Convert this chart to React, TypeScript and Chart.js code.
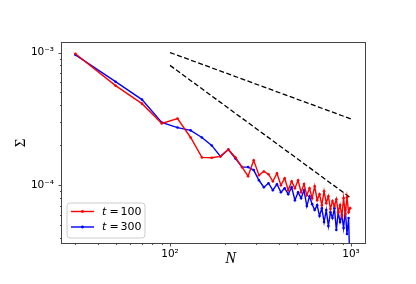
import React, { useEffect, useRef } from 'react';
import { Chart, registerables } from 'chart.js';

Chart.register(...registerables);

// ---------- data ----------
const N_VALUES = [
  30, 50, 70, 90, 110, 130, 150, 170, 190, 210, 230, 250, 270, 290, 310, 330, 350, 370, 390, 410,
  430, 450, 470, 490, 510, 530, 550, 570, 590, 610, 630, 650, 670, 690, 710, 730, 750, 770, 790, 810,
  830, 850, 870, 890, 910, 930, 950, 970, 990,
];

const SIGMA_T100 = [
  9.78e-4, 5.63e-4, 4.12e-4, 2.92e-4, 3.18e-4, 2.29e-4, 1.62e-4, 1.61e-4, 1.65e-4, 1.86e-4,
  1.62e-4, 1.37e-4, 1.17e-4, 1.54e-4, 1.19e-4, 1.27e-4, 1.21e-4, 1.07e-4, 1.23e-4, 1.0e-4,
  1.13e-4, 9.17e-5, 1.07e-4, 9.5e-5, 1.09e-4, 8.86e-5, 1.02e-4, 8.41e-5, 9.5e-5, 7.99e-5,
  9.83e-5, 7.72e-5, 8.56e-5, 7.08e-5, 9.02e-5, 7.33e-5, 8.27e-5, 6.61e-5, 7.59e-5, 6.96e-5,
  7.85e-5, 6.27e-5, 7.08e-5, 5.86e-5, 7.99e-5, 6.06e-5, 8.13e-5, 6.27e-5, 6.72e-5,
];

const SIGMA_T300 = [
  9.61e-4, 6.03e-4, 4.42e-4, 2.97e-4, 2.72e-4, 2.59e-4, 2.29e-4, 1.995e-4, 1.65e-4, 1.86e-4,
  1.59e-4, 1.37e-4, 1.37e-4, 1.3e-4, 1.09e-4, 9.66e-5, 1.035e-4, 9.17e-5, 1.018e-4, 8.86e-5,
  9.5e-5, 8.56e-5, 9.66e-5, 7.72e-5, 8.86e-5, 7.99e-5, 9.17e-5, 6.96e-5, 8.27e-5, 7.2e-5,
  6.5e-5, 7.08e-5, 5.86e-5, 6.72e-5, 5.28e-5, 6.5e-5, 4.93e-5, 6.27e-5, 5.66e-5, 6.72e-5,
  4.6e-5, 6.27e-5, 5.28e-5, 5.96e-5, 4.76e-5, 6.5e-5, 4.29e-5, 5.66e-5, 2.0e-5,
];

const SERIES_LABELS = ['t = 100', 't = 300'];
const SERIES_COLORS = ['#ff0000', '#0000ff'];

// reference guide lines (N^-1/2 and N^-1)
const REF_HALF_N = [100, 1000];
const REF_HALF_SIGMA = [1.0e-3, 3.16e-4];
const REF_ONE_N = [100, 1000];
const REF_ONE_SIGMA = [8.0e-4, 8.0e-5];

// axis ticks
const X_TICKS = [30, 40, 50, 60, 70, 80, 90, 100, 200, 300, 400, 500, 600, 700, 800, 900, 1000];
const Y_TICKS = [
  4e-5, 5e-5, 6e-5, 7e-5, 8e-5, 9e-5, 1e-4, 2e-4, 3e-4, 4e-4, 5e-4, 6e-4, 7e-4, 8e-4, 9e-4, 1e-3,
];
const X_MAJOR_LABELS = ['10²', '10³'];
const X_MAJOR_VALUES = [100, 1000];
const Y_MAJOR_LABELS = ['10⁻⁴', '10⁻³'];
const Y_MAJOR_VALUES = [1e-4, 1e-3];

const X_RANGE = [25.3, 1195];
const Y_RANGE = [3.67e-5, 1.18e-3];

const X_TITLE = 'N';
const Y_TITLE = 'Σ';

const isMajor = (v: number) => Math.abs(Math.log10(v) - Math.round(Math.log10(v))) < 1e-6;

const labelFor = (v: number, values: number[], labels: string[]) => {
  for (let i = 0; i < values.length; i++) {
    if (Math.abs(v - values[i]) / values[i] < 1e-6) return labels[i];
  }
  return '';
};

const decorPlugin = {
  id: 'decor',
  afterDraw(chart: any) {
    const ctx = chart.ctx as CanvasRenderingContext2D;
    const { left, right, top, bottom } = chart.chartArea;
    const xs = chart.scales.x;
    const ys = chart.scales.y;
    ctx.save();
    // tick marks
    ctx.strokeStyle = '#222';
    ctx.lineWidth = 0.8;
    for (const v of X_TICKS) {
      const px = Math.round(xs.getPixelForValue(v)) + 0.5;
      const len = isMajor(v) ? 3.5 : 2;
      ctx.beginPath();
      ctx.moveTo(px, bottom);
      ctx.lineTo(px, bottom + len);
      ctx.stroke();
    }
    for (const v of Y_TICKS) {
      const py = Math.round(ys.getPixelForValue(v)) + 0.5;
      const len = isMajor(v) ? 3.5 : 2;
      ctx.beginPath();
      ctx.moveTo(left - len, py);
      ctx.lineTo(left, py);
      ctx.stroke();
    }
    // frame
    ctx.strokeStyle = '#444';
    ctx.lineWidth = 1;
    ctx.strokeRect(left - 0.5, top - 0.5, right - left + 1, bottom - top + 1);

    // axis titles
    ctx.fillStyle = '#000';
    ctx.font = 'italic 16px "Liberation Serif"';
    ctx.textAlign = 'center';
    ctx.textBaseline = 'middle';
    ctx.fillText(X_TITLE, (left + right) / 2 + 17, bottom + 16);
    ctx.save();
    ctx.translate(21, (top + bottom) / 2);
    ctx.rotate(-Math.PI / 2);
    ctx.font = '15px "Liberation Serif"';
    ctx.fillText(Y_TITLE, 0, 0);
    ctx.restore();

    // legend
    const lx = left + 5;
    const lw = 78;
    const lh = 35;
    const ly = bottom - 5 - lh;
    ctx.beginPath();
    const r = 3;
    ctx.moveTo(lx + r, ly);
    ctx.lineTo(lx + lw - r, ly);
    ctx.quadraticCurveTo(lx + lw, ly, lx + lw, ly + r);
    ctx.lineTo(lx + lw, ly + lh - r);
    ctx.quadraticCurveTo(lx + lw, ly + lh, lx + lw - r, ly + lh);
    ctx.lineTo(lx + r, ly + lh);
    ctx.quadraticCurveTo(lx, ly + lh, lx, ly + lh - r);
    ctx.lineTo(lx, ly + r);
    ctx.quadraticCurveTo(lx, ly, lx + r, ly);
    ctx.closePath();
    ctx.fillStyle = 'rgba(255,255,255,0.8)';
    ctx.fill();
    ctx.strokeStyle = '#cccccc';
    ctx.lineWidth = 1;
    ctx.stroke();

    const series = chart.data.datasets.filter((d: any) => !d.isGuide);
    series.forEach((d: any, i: number) => {
      const ey = ly + 8.5 + i * 15.5;
      ctx.strokeStyle = d.borderColor;
      ctx.lineWidth = 1.4;
      ctx.beginPath();
      ctx.moveTo(lx + 4, ey);
      ctx.lineTo(lx + 27, ey);
      ctx.stroke();
      ctx.fillStyle = d.borderColor;
      ctx.beginPath();
      ctx.arc(lx + 15.5, ey, 1.4, 0, Math.PI * 2);
      ctx.fill();
      const parts = String(d.label).split('=');
      ctx.fillStyle = '#000';
      ctx.textAlign = 'left';
      ctx.textBaseline = 'middle';
      ctx.font = 'italic 11px "DejaVu Sans"';
      ctx.fillText(parts[0].trim(), lx + 35, ey + 0.5);
      ctx.font = '11px "DejaVu Sans"';
      ctx.fillText('=', lx + 42.5, ey + 0.5);
      ctx.fillText(parts[1].trim(), lx + 53.5, ey + 0.5);
    });
    ctx.restore();
  },
};

export default function App() {
  const canvasRef = useRef<HTMLCanvasElement | null>(null);

  useEffect(() => {
    const canvas = canvasRef.current;
    if (!canvas) return;
    const mk = (xs: number[], ys: number[]) => xs.map((x, i) => ({ x, y: ys[i] }));
    const chart = new Chart(canvas, {
      type: 'line',
      data: {
        datasets: [
          {
            label: SERIES_LABELS[0],
            data: mk(N_VALUES, SIGMA_T100),
            borderColor: SERIES_COLORS[0],
            backgroundColor: SERIES_COLORS[0],
            borderWidth: 1.4,
            pointRadius: 1.3,
            pointBorderWidth: 0,
            pointHoverRadius: 1.3,
            tension: 0,
          },
          {
            label: SERIES_LABELS[1],
            data: mk(N_VALUES, SIGMA_T300),
            borderColor: SERIES_COLORS[1],
            backgroundColor: SERIES_COLORS[1],
            borderWidth: 1.4,
            pointRadius: 1.3,
            pointBorderWidth: 0,
            pointHoverRadius: 1.3,
            tension: 0,
          },
          {
            label: 'guide1',
            isGuide: true,
            data: mk(REF_HALF_N, REF_HALF_SIGMA),
            borderColor: '#000',
            borderWidth: 1.3,
            borderDash: [5, 2.5],
            pointRadius: 0,
          } as any,
          {
            label: 'guide2',
            isGuide: true,
            data: mk(REF_ONE_N, REF_ONE_SIGMA),
            borderColor: '#000',
            borderWidth: 1.3,
            borderDash: [5, 2.5],
            pointRadius: 0,
          } as any,
        ],
      },
      options: {
        responsive: false,
        animation: false,
        devicePixelRatio: 1,
        layout: { padding: { left: 0, top: 43, right: 51, bottom: 0 } },
        plugins: { legend: { display: false }, tooltip: { enabled: false } },
        scales: {
          x: {
            type: 'logarithmic',
            min: X_RANGE[0],
            max: X_RANGE[1],
            grid: { display: false, drawTicks: false },
            border: { display: false },
            afterBuildTicks: (scale: any) => {
              scale.ticks = X_TICKS.map((v) => ({ value: v, major: isMajor(v) }));
            },
            afterFit: (scale: any) => {
              scale.height = 41;
            },
            ticks: {
              autoSkip: false,
              maxRotation: 0,
              padding: 5,
              color: '#000',
              font: { family: '"DejaVu Sans"', size: 10.5 },
              callback: (v: any) => labelFor(Number(v), X_MAJOR_VALUES, X_MAJOR_LABELS),
            },
          },
          y: {
            type: 'logarithmic',
            min: Y_RANGE[0],
            max: Y_RANGE[1],
            grid: { display: false, drawTicks: false },
            border: { display: false },
            afterBuildTicks: (scale: any) => {
              scale.ticks = Y_TICKS.map((v) => ({ value: v, major: isMajor(v) }));
            },
            afterFit: (scale: any) => {
              scale.width = 62;
            },
            ticks: {
              autoSkip: false,
              padding: 8,
              color: '#000',
              font: { family: '"DejaVu Sans"', size: 10.5 },
              callback: (v: any) => labelFor(Number(v), Y_MAJOR_VALUES, Y_MAJOR_LABELS),
            },
          },
        },
      },
      plugins: [decorPlugin],
    });
    return () => chart.destroy();
  }, []);

  return (
    <div style={{ position: 'fixed', left: 0, top: 0, width: 416, height: 284, background: '#fff' }}>
      <canvas ref={canvasRef} width={416} height={284} style={{ width: 416, height: 284, display: 'block' }} />
    </div>
  );
}
